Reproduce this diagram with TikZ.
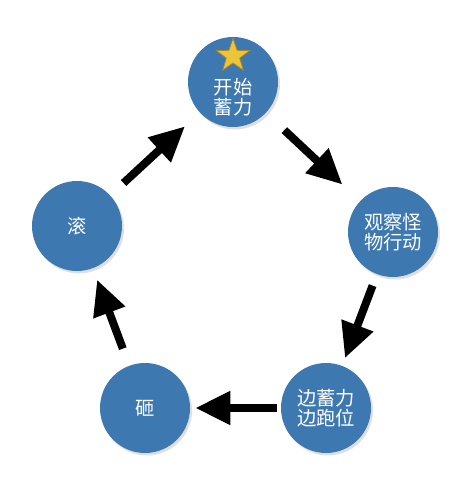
\documentclass[tikz,border=0pt]{standalone}
\usepackage{fontspec}
\newfontfamily\cjk{Noto Sans CJK SC}
\usepackage{xcolor}
\usepackage{tikz}
\usetikzlibrary{automata, positioning, arrows.meta, shapes.geometric, shadows}
\definecolor{panel}{RGB}{62,120,176}
\definecolor{gold}{RGB}{236,196,56}
\definecolor{ochre}{RGB}{176,134,30}
\tikzset{
	every state/.style={draw=none, fill=panel, minimum size=1.8cm, inner sep=0pt, text=white, font=\cjk\fontsize{11}{11.5}\selectfont, align=center, drop shadow={opacity=0.25, shadow xshift=0.04cm, shadow yshift=-0.05cm}}, % the blue round steps
	flow/.style={-{Triangle[length=0.7cm, width=0.64cm]}, line width=0.16cm, black}, % the thick black arrows
	badge/.style={star, star points=5, star point ratio=2.5, fill=gold, draw=ochre, line width=0.4pt, minimum size=0.7cm, inner sep=0pt}, % the star on the first step
}
\begin{document}
\begin{tikzpicture}[node distance=3cm, on grid]
		\useasboundingbox (0,0) rectangle (9.48,10);
		% Define steps
		\node[state] (kaishi) at (4.66,8.36) {};
		\node[badge] (xing) at ([yshift=0.52cm]kaishi.center) {};
		\node[font=\cjk\fontsize{11}{11.5}\selectfont, text=white, align=center, inner sep=0pt] (kaishitext) at ([yshift=-0.3cm]kaishi.center) {开始\\蓄力};
		\node[state, below right=3cm and 3.2cm of kaishi] (guancha) {观察怪\\物行动};
		\node[state, below left=3.52cm and 1.34cm of guancha] (paowei) {边蓄力\\边跑位};
		\node[state, left=3.62cm of paowei] (za) {砸};
		\node[state, above left=3.64cm and 1.36cm of za] (gun) {滚};
		
		% Arrows
		\draw[flow, shorten <=0.5cm, shorten >=0.48cm] (kaishi) -- (guancha);
		\draw[flow, shorten <=0.24cm, shorten >=0.16cm] (guancha) -- (paowei);
		\draw[flow, shorten <=0.08cm, shorten >=0.1cm] (paowei) -- (za);
		\draw[flow, shorten <=0.36cm, shorten >=0.24cm] (za) -- (gun);
		\draw[flow, shorten <=0.36cm, shorten >=0.4cm] (gun) -- (kaishi);
	\end{tikzpicture}
\end{document}
